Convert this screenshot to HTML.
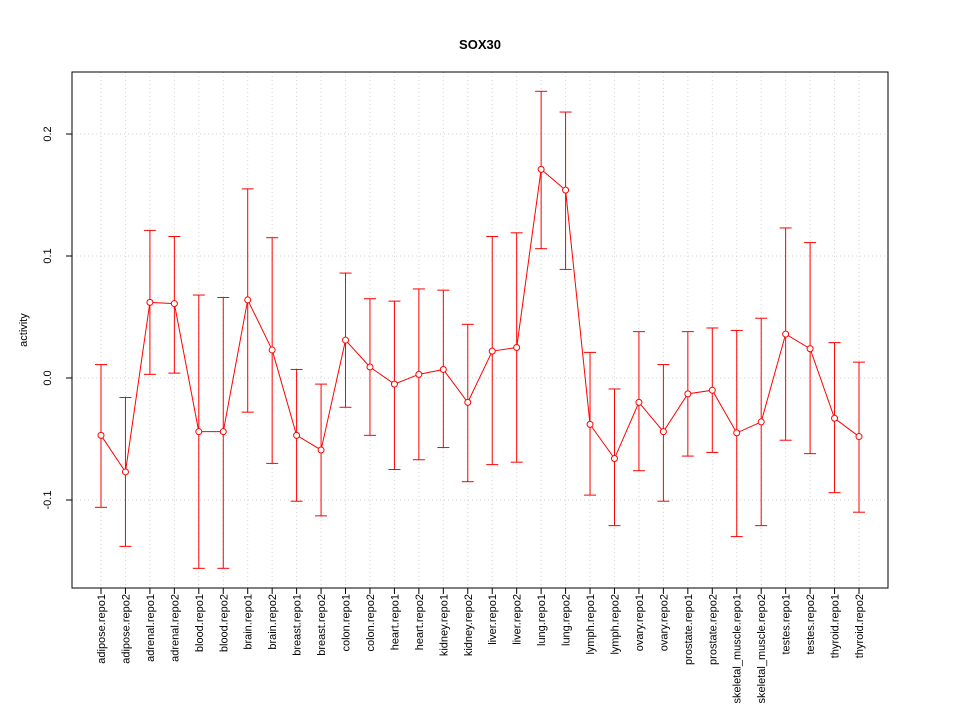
<!DOCTYPE html>
<html><head><meta charset="utf-8"><style>
body{margin:0;background:#fff;}
svg{display:block;font-family:"Liberation Sans",Arial,sans-serif;}
</style></head><body>
<svg id="chart" width="960" height="720"></svg>
<script>
const categories=["adipose.repo1","adipose.repo2","adrenal.repo1","adrenal.repo2","blood.repo1","blood.repo2","brain.repo1","brain.repo2","breast.repo1","breast.repo2","colon.repo1","colon.repo2","heart.repo1","heart.repo2","kidney.repo1","kidney.repo2","liver.repo1","liver.repo2","lung.repo1","lung.repo2","lymph.repo1","lymph.repo2","ovary.repo1","ovary.repo2","prostate.repo1","prostate.repo2","skeletal_muscle.repo1","skeletal_muscle.repo2","testes.repo1","testes.repo2","thyroid.repo1","thyroid.repo2"];
const means=[-0.047,-0.077,0.062,0.061,-0.044,-0.044,0.064,0.023,-0.047,-0.059,0.031,0.009,-0.005,0.003,0.007,-0.020,0.022,0.025,0.171,0.154,-0.038,-0.066,-0.020,-0.044,-0.013,-0.010,-0.045,-0.036,0.036,0.024,-0.033,-0.048];
const uppers=[0.011,-0.016,0.121,0.116,0.068,0.066,0.155,0.115,0.007,-0.005,0.086,0.065,0.063,0.073,0.072,0.044,0.116,0.119,0.235,0.218,0.021,-0.009,0.038,0.011,0.038,0.041,0.039,0.049,0.123,0.111,0.029,0.013];
const lowers=[-0.106,-0.138,0.003,0.004,-0.156,-0.156,-0.028,-0.070,-0.101,-0.113,-0.024,-0.047,-0.075,-0.067,-0.057,-0.085,-0.071,-0.069,0.106,0.089,-0.096,-0.121,-0.076,-0.101,-0.064,-0.061,-0.130,-0.121,-0.051,-0.062,-0.094,-0.110];
const yTicks=[-0.1,0.0,0.1,0.2];
const yTickLabels=["-0.1","0.0","0.1","0.2"];

const svg=document.getElementById('chart');
const NS="http://www.w3.org/2000/svg";
const L=72,R=888,T=72,B=588;
function xs(i){return 101+i*(859-101)/(categories.length-1);}
function ys(v){return 378-v*1220;}
function mk(tag,attrs,parent){const e=document.createElementNS(NS,tag);for(const k in attrs)e.setAttribute(k,attrs[k]);(parent||svg).appendChild(e);return e;}

const grid=mk('g',{});


categories.forEach((c,i)=>{mk('line',{x1:xs(i),x2:xs(i),y1:T,y2:B,stroke:'#d3d3d3','stroke-dasharray':'1,3'},grid);});
yTicks.forEach(v=>{mk('line',{x1:L,x2:R,y1:ys(v),y2:ys(v),stroke:'#d3d3d3','stroke-dasharray':'1,3'},grid);});

const frame=mk('rect',{x:L,y:T,width:R-L,height:B-T,fill:'none',stroke:'#000'});



const title=mk('text',{x:480,y:49,'text-anchor':'middle','font-size':13,'font-weight':'bold'});
title.textContent='SOX30';



const yt=mk('text',{x:27,y:330,'text-anchor':'middle','font-size':11,transform:'rotate(-90 27 330)'});
yt.textContent='activity';



const yax=mk('g',{});


yTicks.forEach((v,i)=>{
  mk('line',{x1:L-6,x2:L,y1:ys(v),y2:ys(v),stroke:'#000'},yax);
  const t=mk('text',{x:51,y:ys(v),'text-anchor':'middle','font-size':11,transform:`rotate(-90 51 ${ys(v)})`},yax);
  t.textContent=yTickLabels[i];
});

const xax=mk('g',{});


categories.forEach((c,i)=>{
  mk('line',{x1:xs(i),x2:xs(i),y1:B,y2:B+6,stroke:'#000'},xax);
  const t=mk('text',{x:xs(i)+4,y:594,'text-anchor':'end','font-size':11,transform:`rotate(-90 ${xs(i)+4} 594)`},xax);
  t.textContent=c;
});

const series=mk('g',{});


categories.forEach((c,i)=>{
  const x=xs(i);
  const eb=mk('g',{stroke:'#ff0000',fill:'none'},series);
  
  
  mk('line',{x1:x,x2:x,y1:ys(uppers[i]),y2:ys(lowers[i])},eb);
  mk('line',{x1:x-6,x2:x+6,y1:ys(uppers[i]),y2:ys(uppers[i])},eb);
  mk('line',{x1:x-6,x2:x+6,y1:ys(lowers[i]),y2:ys(lowers[i])},eb);
});
const pts=means.map((v,i)=>xs(i)+','+ys(v)).join(' ');
const line=mk('polyline',{points:pts,fill:'none',stroke:'#ff0000'},series);


means.forEach((v,i)=>{
  const p=mk('circle',{cx:xs(i),cy:ys(v),r:3,fill:'#fff',stroke:'#ff0000'},series);
  
  
});
</script>
</body></html>
